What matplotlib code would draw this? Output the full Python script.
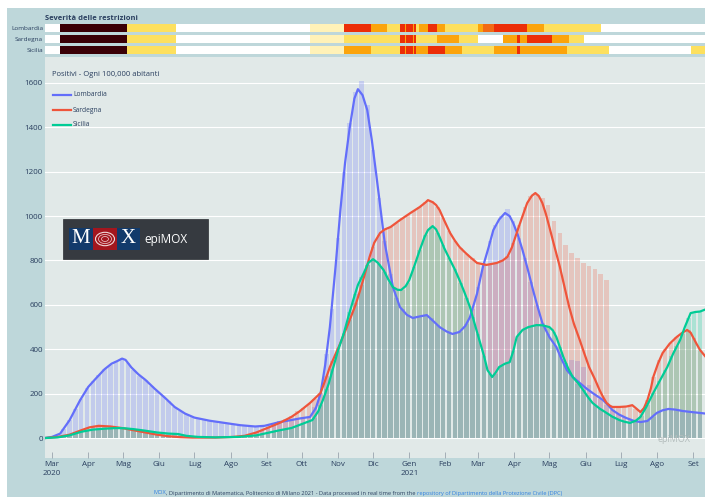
import numpy as np
import pandas as pd
import matplotlib
matplotlib.use("Agg")
import matplotlib.pyplot as plt
import matplotlib.dates as mdates
from matplotlib.patches import Rectangle, Circle

plt.rcParams['font.family'] = ['Open Sans', 'DejaVu Sans']

W, H = 705, 497
START = pd.Timestamp("2020-03-01")

# ---- dati: giorni dal 1 marzo 2020 ----
regioni = ["Lombardia", "Sardegna", "Sicilia"]
colori = ["#636efa", "#ef553b", "#00cc96"]

# barre (positivi giornalieri, ogni 5 giorni)
bar_days = list(range(-5, 556, 5))
lomb_bar = [0, 5, 15, 40, 80, 130, 175, 225, 255, 285,
            310, 330, 345, 360, 340, 305, 280, 260, 235, 210,
            190, 165, 140, 122, 108, 96, 88, 82, 78, 74,
            70, 66, 62, 58, 55, 53, 52, 54, 60, 68,
            75, 80, 83, 88, 92, 95, 140, 200, 380, 580,
            900, 1200, 1420, 1560, 1610, 1500, 1300, 1080, 890, 740,
            630, 580, 555, 540, 545, 555, 540, 510, 490, 472,
            470, 480, 515, 580, 680, 790, 890, 960, 1000, 1030,
            980, 900, 810, 705, 600, 520, 470, 420, 380, 330,
            350, 345, 320, 240, 195, 178, 150, 126, 110, 95,
            85, 78, 72, 77, 95, 118, 130, 130, 126, 122,
            118, 115, 112]
sard_bar = [0, 3, 5, 10, 15, 25, 35, 45, 52, 55,
            54, 52, 48, 45, 40, 35, 30, 25, 20, 15,
            11, 8, 6, 4, 3, 2, 2, 2, 2, 2,
            3, 4, 5, 7, 10, 16, 25, 37, 50, 62,
            75, 87, 100, 120, 135, 155, 178, 203, 280, 345,
            405, 470, 532, 610, 690, 780, 860, 915, 940, 951,
            970, 990, 1005, 1025, 1041, 1065, 1070, 1040, 990, 935,
            890, 855, 830, 810, 790, 782, 780, 786, 800, 820,
            880, 960, 1040, 1090, 1100, 1080, 1050, 980, 924, 870,
            833, 810, 789, 775, 760, 740, 712, 140, 140, 145,
            150, 130, 117, 170, 275, 350, 400, 430, 455, 475,
            487, 450, 390]
sici_bar = [0, 2, 3, 7, 12, 20, 28, 34, 38, 40,
            42, 44, 45, 44, 42, 40, 37, 33, 29, 25,
            22, 20, 20, 18, 10, 7, 5, 4, 3, 3,
            3, 4, 4, 5, 7, 10, 12, 17, 25, 30,
            35, 40, 45, 55, 65, 75, 90, 150, 220, 310,
            390, 473, 570, 650, 725, 780, 806, 785, 750, 700,
            672, 668, 700, 770, 847, 915, 950, 925, 870, 812,
            760, 700, 630, 545, 470, 370, 290, 290, 325, 338,
            390, 470, 492, 500, 509, 505, 502, 480, 410, 340,
            285, 245, 216, 180, 150, 130, 113, 98, 83, 75,
            68, 80, 100, 150, 203, 255, 305, 370, 415, 470,
            540, 566, 570]

# curve (media mobile)
lomb_line_days = [-6, 0, 7, 15, 24, 31, 37, 45, 51, 56, 60, 63, 68, 74, 80, 88, 97, 105, 114, 122,
                  135, 148, 161, 174, 182, 195, 204, 212, 221, 226, 230, 234, 238, 243, 247, 251,
                  255, 259, 262, 266, 270, 274, 278, 285, 292, 298, 304, 309, 315, 321, 327, 332,
                  338, 343, 349, 354, 358, 364, 369, 374, 378, 383, 388, 392, 395, 399, 403, 408,
                  412, 416, 420, 426, 432, 436, 441, 446, 452, 458, 463, 472, 476, 480, 486, 492,
                  498, 504, 510, 514, 518, 523, 528, 534, 540, 548, 555, 560]
lomb_line = [0, 5, 20, 80, 170, 230, 265, 310, 335, 347, 358, 352, 318, 287, 262, 222, 180, 140, 110, 92,
             78, 68, 58, 52, 55, 72, 80, 88, 95, 135, 200, 330, 500, 780, 1027, 1240,
             1400, 1530, 1572, 1545, 1478, 1340, 1176, 879, 680, 590, 555, 541, 548, 554, 525, 500,
             480, 469, 478, 505, 545, 650, 770, 860, 937, 985, 1014, 1000, 969, 915, 847, 750,
             667, 590, 518, 455, 410, 360, 306, 275, 248, 222, 203, 171, 150, 126, 105, 90,
             78, 72, 77, 95, 113, 125, 131, 128, 122, 117, 113, 110]
sard_line_days = [-6, 5, 15, 25, 32, 40, 50, 60, 70, 80, 90, 100, 110, 120, 140, 155, 165, 175, 182, 195,
                  205, 212, 221, 230, 234, 238, 243, 247, 251, 255, 260, 264, 268, 272, 276, 281, 285,
                  290, 298, 307, 315, 320, 322, 326, 329, 332, 336, 341, 345, 349, 354, 358, 364, 372,
                  381, 386, 390, 394, 398, 403, 407, 411, 414, 417, 420, 423, 426, 430, 435, 439, 443,
                  447, 452, 456, 460, 465, 469, 472, 475, 478, 480, 486, 492, 497, 500, 504, 507, 510,
                  513, 515, 519, 523, 529, 535, 540, 544, 547, 549, 552, 555, 560]
sard_line = [0, 5, 15, 35, 48, 55, 52, 45, 35, 25, 15, 8, 4, 2, 2, 5, 10, 25, 40, 68,
             95, 120, 158, 203, 260, 320, 380, 428, 480, 532, 600, 667, 740, 816, 880, 924, 940,
             951, 982, 1014, 1041, 1062, 1072, 1063, 1050, 1027, 980, 924, 890, 861, 835, 816, 789, 780,
             789, 800, 816, 860, 924, 1000, 1059, 1092, 1104, 1090, 1059, 1010, 951, 870, 771, 680, 590,
             515, 442, 380, 320, 265, 216, 185, 158, 145, 140, 140, 142, 148, 135, 117, 135, 171,
             225, 275, 335, 383, 425, 455, 475, 487, 475, 455, 425, 397, 365]
sici_line_days = [-6, 5, 15, 25, 35, 45, 55, 62, 70, 80, 90, 100, 108, 115, 125, 140, 160, 175, 182, 195,
                  205, 212, 223, 228, 232, 237, 241, 245, 250, 254, 258, 262, 267, 271, 275, 279, 284,
                  288, 292, 296, 299, 303, 306, 310, 315, 319, 322, 326, 329, 332, 336, 341, 345, 349,
                  353, 358, 362, 366, 370, 373, 377, 380, 383, 388, 392, 395, 398, 403, 408, 415, 420,
                  426, 429, 432, 435, 438, 442, 446, 451, 455, 459, 463, 469, 475, 480, 486, 490, 495,
                  500, 504, 509, 515, 521, 527, 532, 538, 542, 547, 551, 555, 560]
sici_line = [0, 3, 12, 28, 38, 42, 45, 44, 40, 33, 25, 20, 18, 10, 5, 3, 5, 12, 20, 35,
             45, 59, 81, 120, 171, 245, 320, 395, 473, 550, 622, 690, 743, 790, 806, 790, 757,
             715, 680, 668, 667, 685, 712, 770, 847, 905, 937, 955, 940, 906, 855, 802, 760, 712,
             660, 590, 515, 442, 370, 306, 275, 295, 320, 335, 342, 390, 455, 487, 500, 509, 508,
             500, 485, 455, 410, 365, 315, 275, 245, 216, 185, 158, 133, 113, 96, 81, 74, 68,
             78, 95, 140, 203, 262, 320, 380, 442, 500, 563, 568, 570, 580]

# severita delle restrizioni: 0 bianca, 1 pre-zone, 2 gialla, 3 arancione, 4 rossa, 5 arancione rafforzata, 6 lockdown
livelli_colori = ["#ffffff", "#fff2b8", "#fde05e", "#fba40c", "#ec2e08", "#f26a14", "#3a0006"]
feste = [("2020-12-24", "2020-12-28", 4), ("2020-12-28", "2020-12-29", 3),
         ("2020-12-29", "2021-01-04", 4), ("2021-01-04", "2021-01-05", 3),
         ("2021-01-05", "2021-01-07", 4)]
inizio = [("2020-02-24", "2020-03-08", 0), ("2020-03-08", "2020-05-04", 6),
          ("2020-05-04", "2020-06-15", 2), ("2020-06-15", "2020-10-08", 0),
          ("2020-10-08", "2020-11-06", 1)]
lomb_zone = inizio + [("2020-11-06", "2020-11-29", 4), ("2020-11-29", "2020-12-13", 3),
                      ("2020-12-13", "2020-12-24", 2)] + feste + [
    ("2021-01-07", "2021-01-09", 2), ("2021-01-09", "2021-01-17", 3), ("2021-01-17", "2021-01-25", 4),
    ("2021-01-25", "2021-02-01", 3), ("2021-02-01", "2021-03-01", 2), ("2021-03-01", "2021-03-05", 3),
    ("2021-03-05", "2021-03-15", 5), ("2021-03-15", "2021-04-12", 4), ("2021-04-12", "2021-04-26", 3),
    ("2021-04-26", "2021-06-14", 2), ("2021-06-14", "2021-09-12", 0)]
sard_zone = inizio + [("2020-11-06", "2020-12-24", 2)] + feste + [
    ("2021-01-07", "2021-01-25", 2), ("2021-01-25", "2021-02-13", 3), ("2021-02-13", "2021-03-01", 2),
    ("2021-03-01", "2021-03-22", 0), ("2021-03-22", "2021-04-03", 3), ("2021-04-03", "2021-04-06", 4),
    ("2021-04-06", "2021-04-12", 3), ("2021-04-12", "2021-05-03", 4), ("2021-05-03", "2021-05-18", 3),
    ("2021-05-18", "2021-05-31", 2), ("2021-05-31", "2021-09-12", 0)]
sici_zone = inizio + [("2020-11-06", "2020-11-29", 3), ("2020-11-29", "2020-12-24", 2)] + feste + [
    ("2021-01-07", "2021-01-17", 3), ("2021-01-17", "2021-02-01", 4), ("2021-02-01", "2021-02-15", 3),
    ("2021-02-15", "2021-03-15", 2), ("2021-03-15", "2021-04-03", 3), ("2021-04-03", "2021-04-06", 4),
    ("2021-04-06", "2021-05-16", 3), ("2021-05-16", "2021-06-21", 2), ("2021-06-21", "2021-08-30", 0),
    ("2021-08-30", "2021-09-12", 2)]

mesi = ["Gen", "Feb", "Mar", "Apr", "Mag", "Giu", "Lug", "Ago", "Set", "Ott", "Nov", "Dic"]


def giorni2num(days):
    return mdates.date2num(START + pd.to_timedelta(np.asarray(days, dtype=float), unit="D"))


def fx(x):
    return x / W


def fy(y):
    return 1 - y / H


TXT = "#2a3f5f"
fig = plt.figure(figsize=(W / 100, H / 100), dpi=100, facecolor="white")
fig.add_artist(Rectangle((fx(7), 0), 1, fy(8), transform=fig.transFigure,
                         facecolor="#bed7da", edgecolor="none", zorder=-10))

x0, x1 = giorni2num([-6, 559.3])

# ---- pannello severita ----
hax = fig.add_axes([fx(45), fy(54), fx(660), (54 - 24) / H])
hax.set_xlim(x0, x1)
hax.set_ylim(30, 0)
hax.axis("off")
for i, zone in enumerate([lomb_zone, sard_zone, sici_zone]):
    y0 = i * 11
    for s, e, lv in zone:
        a, b = mdates.date2num(pd.Timestamp(s)), mdates.date2num(pd.Timestamp(e))
        hax.broken_barh([(a, b - a)], (y0, 8), facecolors=livelli_colori[lv], edgecolor="none")
    fig.text(fx(43), fy(28.5 + i * 11), regioni[i], ha="right", va="center", fontsize=4.6, color=TXT)
fig.text(fx(45), fy(18), "Severità delle restrizioni", ha="left", va="center",
         fontsize=5.4, fontweight="bold", color=TXT)

# ---- grafico principale ----
ax = fig.add_axes([fx(45), fy(458), fx(660), (458 - 57) / H])
ax.set_facecolor("#e1e9e8")
bx = giorni2num(bar_days)
for vals, c in zip([lomb_bar, sard_bar, sici_bar], colori):
    ax.bar(bx, vals, width=3.9, color=c, alpha=0.24, linewidth=0, zorder=2)
for d, v, c in zip([lomb_line_days, sard_line_days, sici_line_days],
                   [lomb_line, sard_line, sici_line], colori):
    ax.plot(giorni2num(d), v, color=c, lw=1.6, zorder=3, solid_capstyle="round")

ax.set_xlim(x0, x1)
ax.set_ylim(-90, 1717)
ax.set_yticks(range(0, 1601, 200))
ax.grid(axis="y", color="white", lw=0.8, zorder=0)
ax.set_axisbelow(True)
for sp in ax.spines.values():
    sp.set_visible(False)

tick_dates = pd.date_range("2020-03-01", "2021-09-01", freq="MS")
labels = []
for t in tick_dates:
    lab = mesi[t.month - 1]
    if (t.year, t.month) in ((2020, 3), (2021, 1)):
        lab += "\n" + str(t.year)
    labels.append(lab)
ax.set_xticks(mdates.date2num(tick_dates))
ax.set_xticklabels(labels, fontsize=5.8, color=TXT, linespacing=1.5)
ax.tick_params(axis="x", direction="in", length=4, width=0.6, color="#9aa4ae", pad=2)
ax.tick_params(axis="y", length=0, pad=1.5, labelsize=5.8, labelcolor=TXT)

# legenda
fig.text(fx(52), fy(75), "Positivi - Ogni 100,000 abitanti", fontsize=5.5, color=TXT, va="center")
for i, (r, c) in enumerate(zip(regioni, colori)):
    y = 95 + i * 15
    fig.add_artist(plt.Line2D([fx(53), fx(71)], [fy(y), fy(y)], color=c, lw=1.6,
                              transform=fig.transFigure))
    fig.text(fx(73), fy(y), r, fontsize=4.8, color=TXT, va="center")

# logo
fig.add_artist(Rectangle((fx(63), fy(259)), fx(145), 40 / H, transform=fig.transFigure,
                         facecolor="#363a40", edgecolor="#2a2d32", lw=0.5, zorder=5))
fig.add_artist(Rectangle((fx(69), fy(250)), fx(24), 22 / H, transform=fig.transFigure,
                         facecolor="#123a6b", edgecolor="none", zorder=6))
fig.add_artist(Rectangle((fx(93), fy(250)), fx(24), 22 / H, transform=fig.transFigure,
                         facecolor="#a3161e", edgecolor="none", zorder=6))
fig.add_artist(Rectangle((fx(117), fy(250)), fx(23), 22 / H, transform=fig.transFigure,
                         facecolor="#123a6b", edgecolor="none", zorder=6))
for r, lw in [(9.5, 0.8), (6.5, 0.5), (3.5, 0.5)]:
    fig.add_artist(Circle((fx(105), fy(239)), r / W, transform=fig.transFigure,
                          facecolor="none", edgecolor="#f0d8d8", lw=lw, zorder=7))
fig.text(fx(81), fy(239), "M", fontsize=15, color="white", family="Liberation Serif",
         ha="center", va="center", zorder=7)
fig.text(fx(128.5), fy(239), "X", fontsize=15, color="white", family="Liberation Serif",
         ha="center", va="center", zorder=7)
fig.text(fx(144), fy(240), "epiMOX", fontsize=8.5, color="white", ha="left", va="center", zorder=7)

# watermark
fig.text(fx(690), fy(440), "epiMOX", fontsize=6.5, color="#b3bcbc", ha="right", va="center", zorder=4)

# nota in fondo
renderer = fig.canvas.get_renderer()
pezzi = [("MOX", "#2f7fe0"),
         (", Dipartimento di Matematica, Politecnico di Milano 2021 - Data processed in real time from the ", TXT),
         ("repository of Dipartimento della Protezione Civile (DPC)", "#2f7fe0")]
xp = fx(153)
for s, c in pezzi:
    t = fig.text(xp, fy(493), s, fontsize=4.1, color=c, ha="left", va="center")
    xp = t.get_window_extent(renderer).x1 / fig.bbox.width

fig.savefig("out.png", dpi=100, facecolor="white")
